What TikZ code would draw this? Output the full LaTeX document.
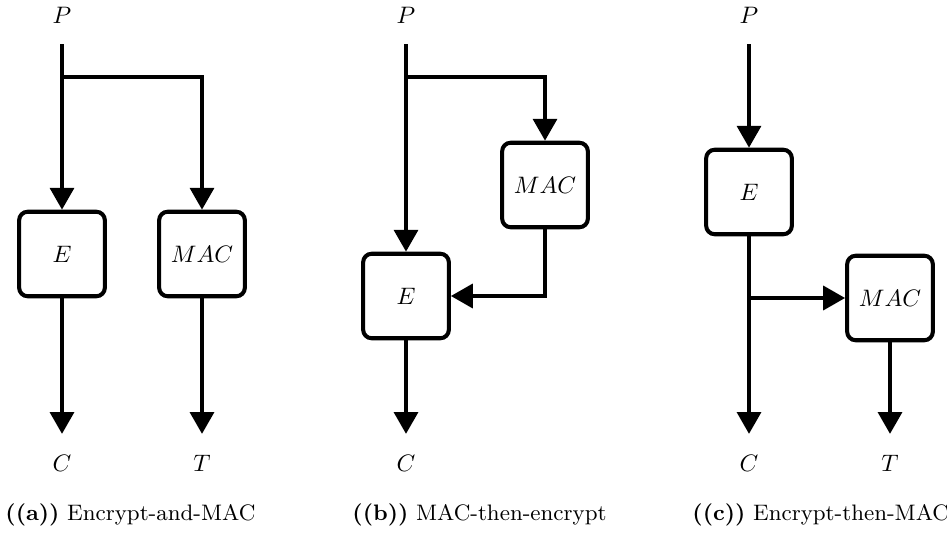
\documentclass[tikz,border=0pt]{standalone}
\usetikzlibrary{arrows.meta}
\begin{document}
\begin{tikzpicture}[x=0.42pt,y=-0.42pt,
  blk/.style={draw,line width=1.7pt,rounded corners=3.6pt,minimum width=36pt,minimum height=35.5pt,inner sep=0pt,font=\normalsize},
  lbl/.style={inner sep=0pt,outer sep=8.8pt},
  arr/.style={line width=1.7pt,-{Triangle[length=9.2pt,width=10pt]}},
  captxt/.style={anchor=base west,inner sep=0pt,font=\fontsize{9.4}{11}\selectfont}]
\useasboundingbox (0,0) rectangle (947,540);
% (a)
\node[lbl] (Pa) at (62,15) {$P$};
\node[blk] (Ea) at (62,254) {$E$};
\node[blk] (Ma) at (202,254) {$MAC$};
\node[lbl] (Ca) at (62,463) {$C$};
\node[lbl] (Ta) at (202,463) {$T$};
\coordinate (ja) at (62,77);
\draw[arr] (Pa) -- (Ea);
\draw[arr] (ja) -| (Ma);
\draw[arr] (Ea) -- (Ca);
\draw[arr] (Ma) -- (Ta);
\node[captxt] (capa) at (5,520) {\textbf{((a))} Encrypt-and-MAC};
% (b)
\node[lbl] (Pb) at (406,15) {$P$};
\node[blk] (Mb) at (545,185) {$MAC$};
\node[blk] (Eb) at (406,296) {$E$};
\node[lbl] (Cb) at (406,463) {$C$};
\coordinate (jb) at (406,77);
\draw[arr] (Pb) -- (Eb);
\draw[arr] (jb) -| (Mb);
\draw[arr] (Mb.south) |- (Eb.east);
\draw[arr] (Eb) -- (Cb);
\node[captxt] (capb) at (352,520) {\textbf{((b))} MAC-then-encrypt};
% (c)
\node[lbl] (Pc) at (749,15) {$P$};
\node[blk] (Ec) at (749,192) {$E$};
\node[blk] (Mc) at (890,298) {$MAC$};
\node[lbl] (Cc) at (749,463) {$C$};
\node[lbl] (Tc) at (890,463) {$T$};
\coordinate (jc) at (749,298);
\draw[arr] (Pc) -- (Ec);
\draw[arr] (Ec) -- (Cc);
\draw[arr] (jc) -- (Mc.west);
\draw[arr] (Mc) -- (Tc);
\node[captxt] (capc) at (692,520) {\textbf{((c))} Encrypt-then-MAC};
\end{tikzpicture}
\end{document}
